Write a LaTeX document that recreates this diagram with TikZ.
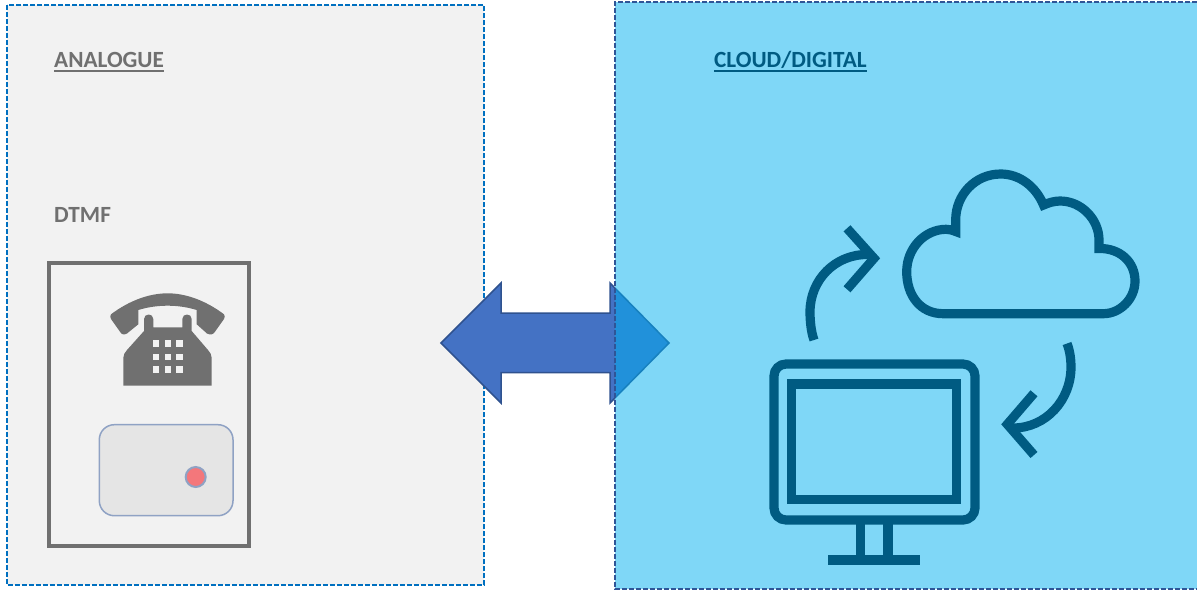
\documentclass[tikz,border=0pt]{standalone}
\usepackage{fontspec}
\setmainfont{Carlito}
\usepackage{xcolor}
\usetikzlibrary{calc}
\definecolor{panelgrey}{HTML}{F2F2F2}
\definecolor{panelblue}{HTML}{00B0F0}
\definecolor{edgeblue}{HTML}{0070C0}
\definecolor{edgedark}{HTML}{2F5597}
\definecolor{arrowblue}{HTML}{4472C4}
\definecolor{arrowedge}{HTML}{2F528F}
\definecolor{phonegrey}{HTML}{707070}
\definecolor{cardgrey}{HTML}{E5E5E5}
\definecolor{cardedge}{HTML}{8FA2C4}
\definecolor{ledred}{HTML}{F4777B}
\definecolor{icon}{HTML}{005B82}
\tikzset{
  panel/.style={dash pattern=on 5pt off 2pt, line width=2pt},
  iconline/.style={draw=icon, line width=9.2pt, miter limit=10},
  lab/.style={inner sep=0pt, font=\fontsize{23.2}{27}\selectfont\bfseries},
  labgrey/.style={lab, text=phonegrey},
  labicon/.style={lab, text=icon}
}
\begin{document}
\begin{tikzpicture}[x=1pt,y=-1pt]
  \useasboundingbox (0,0) rectangle (1197,590);
  % left panel
  \fill[white] (0,0) rectangle (1197,590);
  \draw[panel,draw=edgeblue,fill=panelgrey] (7,5) rectangle (484,585);
  \node[labgrey,anchor=base west] (analogue) at (54,67) {ANALOGUE};
  \draw[draw=phonegrey,line width=2pt] ($(analogue.base west)+(0,4)$) -- ($(analogue.base east)+(0,4)$);
  \node[labgrey,anchor=base west] (dtmf) at (54,222.7) {DTMF};
  \draw[draw=phonegrey,line width=4pt] (49,263) rectangle (249,546);
  % phone
  \fill[phonegrey] (111,314.3) .. controls (130,300) and (150,293.3) .. (167.7,293.3)
    .. controls (185,293.3) and (205,300) .. (224,314.3)
    .. controls (225,316) and (225,317) .. (224,319) -- (215,331.7)
    .. controls (213,335) and (210,335) .. (207,333.5) -- (196.7,324.3) -- (196.7,310)
    .. controls (187,307) and (177,305.7) .. (167.7,305.7)
    .. controls (158,305.7) and (148,307) .. (138.3,310) -- (138.3,324.3) -- (127,333.5)
    .. controls (124,335) and (122,335) .. (120,331.7) -- (111,319)
    .. controls (110,317) and (110,316) .. (111,314.3) -- cycle;
  \fill[phonegrey] (123.3,385.7) -- (123.3,358) .. controls (123.3,355) and (125,352) .. (127,350)
    -- (144,331) -- (144,319) .. controls (144,313) and (153.3,313) .. (153.3,319) -- (153.3,327.3)
    -- (182.3,327.3) -- (182.3,319) .. controls (182.3,313) and (191.7,313) .. (191.7,319) -- (191.7,331)
    -- (208,350) .. controls (210,352) and (211.7,355) .. (211.7,358) -- (211.7,385.7) -- cycle;
  \foreach \kx in {152.7,164.7,176.3}
    \foreach \ky in {340.3,353.7,366.3}
      \fill[panelgrey] (\kx,\ky) rectangle ++(6.4,6.6);
  % card
  \draw[draw=cardedge,fill=cardgrey,line width=1.5pt,rounded corners=15pt] (99.3,424.7) rectangle (233,515.7);
  \draw[draw=cardedge,fill=ledred,line width=2pt] (195.7,477) circle (10);
  % double arrow
  \draw[draw=arrowedge,fill=arrowblue,line width=1.5pt,line join=miter]
    (441,343) -- (501,283) -- (501,313) -- (610,313) -- (610,283) -- (669,343)
    -- (610,403) -- (610,372.5) -- (501,372.5) -- (501,403) -- cycle;
  % right panel
  \fill[panelblue,fill opacity=0.5] (615,1.5) rectangle (1197,589);
  \draw[panel,draw=edgedark] (1197,1.5) -- (615,1.5) -- (615,589) -- (1197,589);
  \node[labicon,anchor=base west] (cloudlab) at (714,67) {CLOUD/DIGITAL};
  \draw[draw=icon,line width=2pt] ($(cloudlab.base west)+(0,4)$) -- ($(cloudlab.base east)+(0,4)$);
  % cloud
  \draw[iconline] (943.3,313.7) .. controls (920,313.7) and (906.7,295) .. (906.7,271.7)
    .. controls (906.7,248) and (925,229.3) .. (946,229.3)
    .. controls (949,229.3) and (952,230) .. (955.7,231.5)
    -- (955.7,220) .. controls (955.7,195) and (975,174) .. (1000.7,174)
    .. controls (1020,174) and (1036,187) .. (1043.5,205)
    .. controls (1048,203) and (1054,201) .. (1060,201)
    .. controls (1082,201) and (1099,220) .. (1099,240) -- (1099,248.5)
    .. controls (1120,248) and (1135,262) .. (1135,281)
    .. controls (1135,299) and (1120,313.7) .. (1103.3,313.7) -- cycle;
  % curved arrows
  \draw[iconline] (814,340) .. controls (811,332) and (810,320) .. (810,312)
    .. controls (810,280) and (835,254) .. (868,254.5);
  \draw[iconline] (847,228.3) -- (874,258.3) -- (847,289.3);
  \draw[iconline] (1067,343.5) .. controls (1070,351) and (1071,360) .. (1071,367)
    .. controls (1071,400) and (1046,428) .. (1013,428);
  \draw[iconline] (1034,393.3) -- (1007.3,424.3) -- (1034,455);
  % monitor
  \draw[iconline,rounded corners=12pt] (774,364) rectangle (975,520);
  \draw[iconline] (791.7,384) rectangle (956.7,499.3);
  \draw[iconline] (860.7,520) -- (860.7,560);
  \draw[iconline] (888,520) -- (888,560);
  \draw[iconline] (828.3,560) -- (920,560);
\end{tikzpicture}
\end{document}
